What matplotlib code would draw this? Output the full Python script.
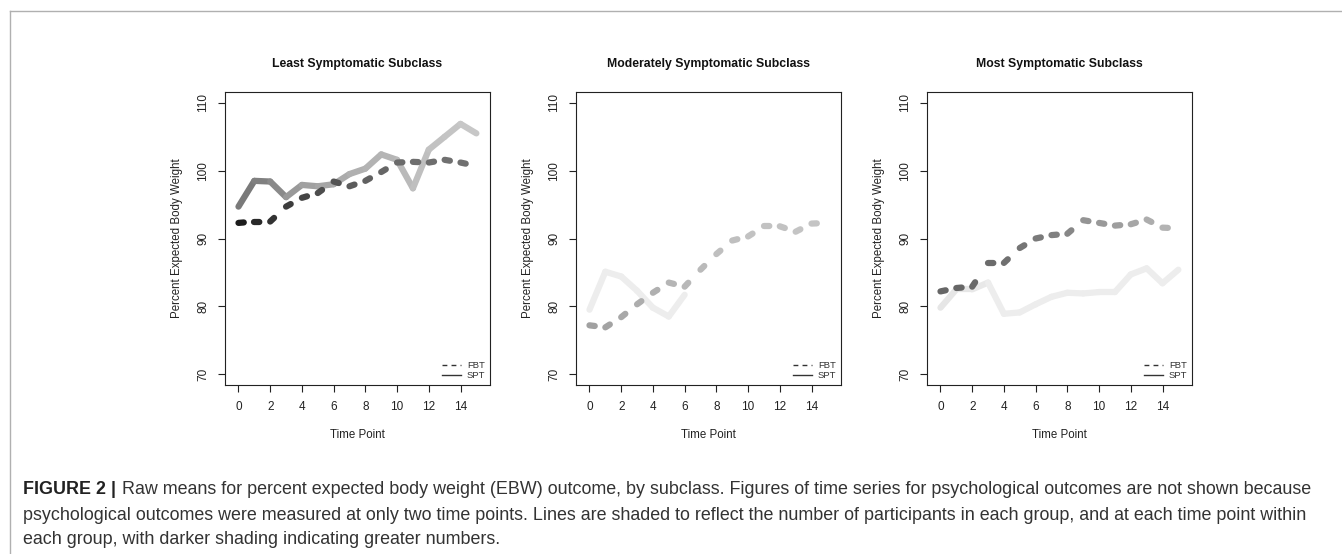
import matplotlib
matplotlib.use('Agg')
import matplotlib.pyplot as plt
from matplotlib.lines import Line2D

plt.rcParams['font.family'] = ['Liberation Sans', 'DejaVu Sans']

# ---------------- data ----------------
time_points = list(range(16))
titles = ["Least Symptomatic Subclass", "Moderately Symptomatic Subclass", "Most Symptomatic Subclass"]
x_ticks = [0, 2, 4, 6, 8, 10, 12, 14]
y_ticks = [70, 80, 90, 100, 110]
legend_labels = ["FBT", "SPT"]

least_fbt = [92.3, 92.5, 92.5, 94.7, 96.0, 96.7, 98.4, 97.7, 98.5, 99.8, 101.2, 101.3, 101.2, 101.6, 101.2, 100.7]
least_spt = [94.7, 98.5, 98.4, 96.1, 97.9, 97.7, 98.0, 99.5, 100.3, 102.4, 101.6, 97.4, 103.1, 105.0, 106.9, 105.5]
moderate_fbt = [77.2, 76.9, 78.4, 80.3, 82.0, 83.5, 82.9, 85.4, 87.7, 89.7, 90.3, 91.8, 91.8, 91.0, 92.2, 92.3]
moderate_spt = [79.5, 85.1, 84.4, 82.3, 79.8, 78.5, 81.7]
most_fbt = [82.2, 82.7, 82.9, 86.4, 86.4, 88.6, 90.0, 90.5, 90.7, 92.7, 92.3, 91.9, 92.1, 92.8, 91.6, 91.5]
most_spt = [79.8, 82.5, 82.5, 83.5, 78.9, 79.1, 80.3, 81.4, 82.0, 81.9, 82.1, 82.1, 84.7, 85.6, 83.4, 85.4]

# segment shading (gray level, 0 = black) reflecting group size
least_fbt_shade = [0.11, 0.16, 0.20, 0.24, 0.27, 0.30, 0.33, 0.36, 0.38, 0.40, 0.42, 0.43, 0.43, 0.44, 0.44]
least_spt_shade = [0.48, 0.50, 0.54, 0.60, 0.63, 0.65, 0.67, 0.69, 0.70, 0.71, 0.73, 0.75, 0.76, 0.77, 0.78]
moderate_fbt_shade = [0.63, 0.64, 0.66, 0.68, 0.69, 0.71, 0.72, 0.73, 0.75, 0.75, 0.76, 0.76, 0.76, 0.77, 0.77]
moderate_spt_shade = [0.93, 0.93, 0.93, 0.93, 0.93, 0.93]
most_fbt_shade = [0.40, 0.40, 0.41, 0.42, 0.44, 0.46, 0.48, 0.50, 0.53, 0.58, 0.60, 0.62, 0.65, 0.68, 0.70]
most_spt_shade = [0.90, 0.90, 0.91, 0.93, 0.93, 0.93, 0.93, 0.93, 0.93, 0.93, 0.93, 0.93, 0.93, 0.93, 0.93]

panels = [
    (least_fbt, least_fbt_shade, least_spt, least_spt_shade),
    (moderate_fbt, moderate_fbt_shade, moderate_spt, moderate_spt_shade),
    (most_fbt, most_fbt_shade, most_spt, most_spt_shade),
]

caption_bold = "FIGURE 2 |"
caption_lines = [
    "Raw means for percent expected body weight (EBW) outcome, by subclass. Figures of time series for psychological outcomes are not shown because",
    "psychological outcomes were measured at only two time points. Lines are shaded to reflect the number of participants in each group, and at each time point within",
    "each group, with darker shading indicating greater numbers.",
]

# ---------------- layout ----------------
W, H = 1342, 554
fig = plt.figure(figsize=(W / 100, H / 100), dpi=100)
fig.patch.set_facecolor('white')

LW = 4.5
AX_LEFTS = [225, 576, 927]
AX_W, AX_TOP, AX_BOT = 265, 92, 385
AX_H = AX_BOT - AX_TOP
INK = '#222222'


def draw_series(ax, y, shades, dashed):
    x = time_points[:len(y)]
    for i in range(len(y) - 1):
        g = shades[i]
        ax.plot(x[i:i + 2], y[i:i + 2], color=(g, g, g), lw=LW,
                linestyle=(0, (0.85, 4.5)) if dashed else '-',
                solid_capstyle='round', dash_capstyle='round',
                solid_joinstyle='round')


for k, L in enumerate(AX_LEFTS):
    ax = fig.add_axes([L / W, (H - AX_BOT) / H, AX_W / W, AX_H / H])
    fbt, fbt_sh, spt, spt_sh = panels[k]
    draw_series(ax, spt, spt_sh, dashed=False)
    draw_series(ax, fbt, fbt_sh, dashed=True)
    ax.set_xlim(-0.85, 15.86)
    ax.set_ylim(68.4, 111.6)
    ax.set_xticks(x_ticks)
    ax.set_yticks(y_ticks)
    ax.set_xticklabels([str(v) for v in x_ticks])
    ax.set_yticklabels([str(v) for v in y_ticks], rotation=90, va='center')
    ax.tick_params(axis='both', length=5, width=0.8, color=INK, labelsize=8.5,
                   labelcolor=INK, pad=6.5)
    for s in ax.spines.values():
        s.set_linewidth(0.8)
        s.set_color(INK)
    ax.text(0.5, 1 + (AX_TOP - 64) / AX_H, titles[k], transform=ax.transAxes,
            ha='center', va='center', fontsize=8.8, fontweight='bold', color='#111111')
    ax.text(0.5, -(435 - AX_BOT) / AX_H, "Time Point", transform=ax.transAxes,
            ha='center', va='center', fontsize=8.3, color=INK)
    ax.text(-(225 - 177) / AX_W, 0.5, "Percent Expected Body Weight", transform=ax.transAxes,
            ha='center', va='center', rotation=90, fontsize=8.3, color=INK)
    handles = [Line2D([], [], color='#333333', lw=1.0, linestyle=(0, (3.5, 3.0))),
               Line2D([], [], color='#333333', lw=1.0, linestyle='-')]
    ax.legend(handles, legend_labels, loc='lower right', frameon=False, fontsize=6.8,
              handlelength=2.0, handletextpad=0.6, labelspacing=0.15,
              borderaxespad=0.2, borderpad=0.3, labelcolor='#333333')

# frame lines around the figure area
fig.add_artist(Line2D([9.5 / W, 1.0], [1 - 10.5 / H, 1 - 10.5 / H], transform=fig.transFigure,
                      color='#b0b0b0', lw=1.0))
fig.add_artist(Line2D([9.5 / W, 9.5 / W], [1 - 10.5 / H, 0.0], transform=fig.transFigure,
                      color='#b0b0b0', lw=1.0))

# caption
X0, X1 = 23, 1318
line_y = [490, 515, 540]
fs0 = 12.0
tb = fig.text(X0 / W, 1 - line_y[0] / H, caption_bold, fontsize=fs0, fontweight='bold',
              color='#222222', ha='left', va='center')
tr = [fig.text(X0 / W, 1 - line_y[i] / H, caption_lines[i], fontsize=fs0, color='#333333',
               ha='left', va='center') for i in range(3)]
renderer = fig.canvas.get_renderer()
for _ in range(2):
    wb = tb.get_window_extent(renderer).width
    gap = tb.get_fontsize() * 100 / 72 * 0.33
    tr[0].set_x((X0 + wb + gap) / W)
    w_total = wb + gap + tr[0].get_window_extent(renderer).width
    scale = (X1 - X0) / w_total
    fs = tb.get_fontsize() * scale
    tb.set_fontsize(fs)
    for t in tr:
        t.set_fontsize(fs)
wb = tb.get_window_extent(renderer).width
gap = tb.get_fontsize() * 100 / 72 * 0.33
tr[0].set_x((X0 + wb + gap) / W)

fig.savefig('out.png', dpi=100, facecolor='white')
